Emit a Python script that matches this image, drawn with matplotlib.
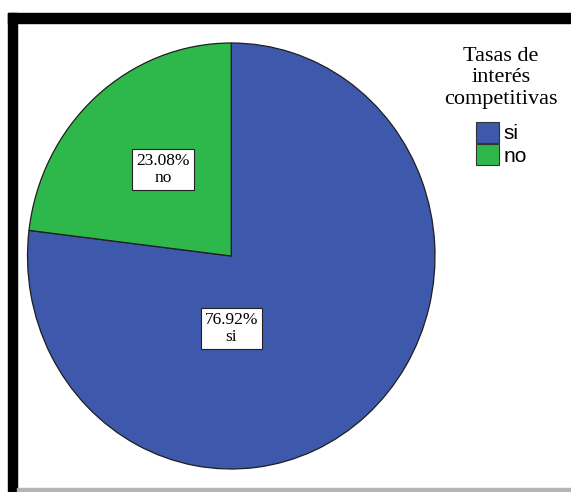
import matplotlib
matplotlib.use("Agg")
import matplotlib.pyplot as plt
from matplotlib.patches import Rectangle, Patch

# respuestas: tasas de interés competitivas
categorias = ["si", "no"]
porcentajes = [76.92, 23.08]
colores = ["#3E58AC", "#2EB84B"]
titulo_leyenda = "Tasas de\ninterés\ncompetitivas"

W, H = 571, 492
fig = plt.figure(figsize=(W / 100, H / 100), dpi=100)
fig.patch.set_facecolor("white")

def px(x0, y0, x1, y1):
    # pixel box (top-left origin) -> figure fraction [left, bottom, width, height]
    return [x0 / W, 1 - y1 / H, (x1 - x0) / W, (y1 - y0) / H]

# black frame on top and left, grey rule at the bottom
fig.patches.append(Rectangle((7.5 / W, 1 - 22.5 / H), 1, 9.5 / H,
                             transform=fig.transFigure, color="black", zorder=0))
fig.patches.append(Rectangle((7.5 / W, 0), 9.5 / W, 1 - 13 / H,
                             transform=fig.transFigure, color="black", zorder=0))
fig.patches.append(Rectangle((17 / W, 0), 1, 4 / H,
                             transform=fig.transFigure, color="#B4B4B4", zorder=0))

ax = fig.add_axes(px(27.5, 43, 435, 469))
wedges, _ = ax.pie(porcentajes, colors=colores, startangle=90, counterclock=False,
                   radius=1, wedgeprops=dict(edgecolor="#1E1E1E", linewidth=0.9))
ax.set_aspect("auto")
ax.set_xlim(-1, 1)
ax.set_ylim(-1, 1)
ax.axis("off")

# value labels inside each slice
pos_etiquetas = {"si": (0.0, -0.34), "no": (-0.335, 0.405)}
for cat, val in zip(categorias, porcentajes):
    x, y = pos_etiquetas[cat]
    ax.text(x, y, f"{val:.2f}%\n{cat}", ha="center", va="center",
            family="Liberation Serif", fontsize=12.5, linespacing=1.1,
            bbox=dict(boxstyle="square,pad=0.22", facecolor="white",
                      edgecolor="#222222", linewidth=0.8))

fig.text(501 / W, 1 - 78 / H, titulo_leyenda, ha="center", va="center",
         multialignment="center", family="Liberation Serif", fontsize=16,
         linespacing=1.2)

handles = [Patch(facecolor=c, edgecolor="#333333", linewidth=0.8) for c in colores]
fig.legend(handles, categorias, loc="upper left",
           bbox_to_anchor=(476 / W, 1 - 122 / H), frameon=False,
           borderpad=0, borderaxespad=0, handlelength=1.1, handleheight=1.15,
           handletextpad=0.2, labelspacing=0.05,
           prop=dict(family="Liberation Sans", size=15))

fig.savefig("out.png", dpi=100)
